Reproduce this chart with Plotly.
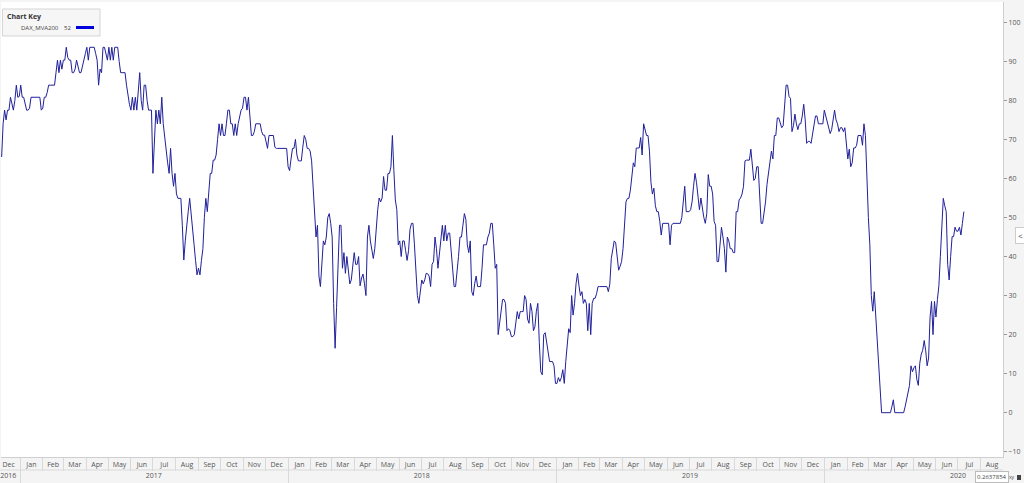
import pandas as pd
import plotly.graph_objects as go

# ---------------- data ----------------
series_name = "DAX_MVA200"
legend_value = "52"
start_date = "2016-12-07"
sample_step = "2D"
values = [
    65.5, 74, 77.5, 75, 77.5, 77.5, 80.8, 79, 77.5, 80,
    83.9, 80.8, 81, 83.9, 80.8, 80.8, 79, 77.5, 77.5, 78,
    80.8, 80.8, 80.8, 80.8, 80.8, 80.8, 80.8, 77.5, 78, 80.8,
    80.8, 82, 83.9, 83.9, 83.9, 83.9, 83.9, 87.1, 90.3, 87.1,
    90.3, 88, 90.3, 90.3, 93.6, 91, 90.3, 90.3, 87.1, 87.1,
    88, 90.3, 89, 87.1, 87.1, 88.5, 90.3, 92, 93.6, 90.3,
    93.6, 93.6, 93.6, 93.6, 92, 90.3, 83.9, 88, 87.1, 93.6,
    93.6, 92, 90.3, 93.6, 90.3, 93.6, 90.3, 93.6, 93.6, 93.6,
    90, 87.1, 87.1, 87.1, 87.1, 83.9, 80.8, 79, 77.5, 80.8,
    77.5, 80.8, 77.5, 83, 87.1, 80, 77.5, 83.9, 83.9, 80,
    77.5, 77.5, 77.5, 61.3, 72, 77.5, 74, 77.5, 74, 80.8,
    74, 70, 67.7, 64, 61.3, 67.7, 61.3, 58, 61.3, 56,
    54.9, 54.9, 54.9, 48, 39.1, 44, 48.5, 51.5, 54.9, 51.5,
    48, 43, 39, 35.3, 37, 35.3, 39, 42, 50, 54.9,
    51.5, 58, 61.3, 61.3, 64.7, 64.7, 66, 70, 74, 71,
    74, 71, 71, 74, 77.5, 77.5, 74, 74, 71, 74,
    71, 74, 76, 77.5, 78, 80.8, 80.8, 77.5, 80.8, 75,
    71, 71, 72, 74, 74, 74, 74, 72, 71.1, 71.1,
    69, 67.7, 71, 71, 71, 71, 68, 67.7, 67.7, 67.7,
    67.7, 67.7, 67.7, 67.7, 67.7, 63, 62, 65, 67.7, 67.7,
    70, 66, 64.5, 64.5, 64.5, 68, 71, 70, 67.7, 67.7,
    67, 64.5, 58, 53, 45, 48, 35, 32.3, 39, 44,
    43, 45, 50, 51, 48.5, 45, 28, 16.5, 27, 38,
    48, 48, 37, 41, 35.7, 40, 37, 33, 34, 37,
    41, 38, 38, 40, 32.5, 34.5, 35.5, 33, 30, 45,
    48, 44, 42, 39.5, 42, 47.5, 52, 55, 54, 55,
    60.5, 57, 57, 61.3, 61.3, 63, 71, 62, 54.5, 52,
    43, 44, 40, 44, 44, 41.5, 39, 41.5, 47, 48.5,
    48.5, 43, 37, 30, 28, 31, 34, 33, 34, 35.7,
    35.6, 35, 32.3, 38, 38.7, 45, 42, 37, 41, 44,
    48, 44, 48, 44, 46, 46, 42, 36, 32.3, 32.3,
    35.5, 40, 45, 45, 48, 51, 49.5, 43, 41, 44,
    31, 30, 33, 35, 32.3, 32.3, 32.3, 37, 43, 43,
    43, 45, 46, 48.5, 48.5, 43, 37, 38, 20, 23,
    27, 29, 29, 28, 21, 21.5, 21, 19.5, 19.5, 20,
    23, 25.9, 24, 25.9, 25.9, 25.9, 30, 29, 24, 22.9,
    28, 26, 21, 22, 26, 28, 18, 10.5, 9.7, 20,
    20.5, 18, 15, 13.1, 13.1, 13.1, 12, 7.5, 7.5, 9,
    8, 9, 11, 7.5, 13.1, 18.5, 21.5, 20.5, 30, 25,
    28, 33, 35.7, 32.5, 30, 31, 28, 29, 28, 21,
    28, 20, 28, 29.3, 29.3, 30.5, 32.3, 32.3, 32.3, 32.3,
    32.3, 32.3, 32.3, 31, 33, 39.5, 42, 44, 43.5, 40,
    36.5, 37.5, 38.7, 42, 49, 54, 54.9, 54.9, 57, 60,
    64, 63, 67.8, 67.8, 67.8, 70.5, 66, 74, 72, 71,
    71, 67, 59, 56, 57.5, 53, 51.5, 51.5, 49, 45.5,
    48.5, 48.5, 48.5, 48.5, 48.5, 43, 48, 48.5, 48.5, 48.5,
    48.5, 48.5, 48.5, 50, 55, 58, 51.5, 51.5, 51.5, 52,
    54, 58, 61.3, 59, 54.5, 52, 55, 52, 50, 48.5,
    51, 61, 58, 58, 56, 49, 48, 38.7, 38.7, 43,
    47.5, 45, 42, 36, 45, 44, 42, 42, 41, 41,
    51.5, 51.5, 54.5, 55, 56, 58, 64.5, 64.7, 64.7, 64.7,
    67.5, 63, 59.5, 60, 63, 63, 56, 48.5, 48.5, 51,
    54, 58.5, 61.3, 63.5, 67, 65, 71, 71, 75.5, 75.5,
    74, 73, 73.5, 80.5, 83.9, 83.9, 81, 80.5, 72, 73.5,
    76.5, 74, 72.5, 74, 74, 76, 79, 75, 69, 69.5,
    69.5, 69, 71.5, 73.5, 76, 76, 74, 74, 74, 74,
    77.5, 76, 74, 73, 71.5, 72.5, 74.5, 77.5, 75, 74,
    72, 73, 73, 72, 73, 67.8, 65, 67.5, 63, 64,
    67.8, 67.8, 68.5, 71, 71, 71, 68.5, 74, 71, 58,
    50, 43, 30, 26, 31, 25, 19, 11, 4, 0,
    0, 0, 0, 0, 0, 0, 1.5, 3.3, 0, 0,
    0, 0, 0, 0, 0, 1.5, 3.3, 5, 7, 12,
    10.5, 11.5, 12, 8.5, 7, 12.7, 15, 16, 18.5, 16,
    12, 14, 24.5, 28.5, 20, 28.5, 24.5, 29, 32.5, 40,
    47, 54.9, 53, 51.5, 38, 34, 40, 45.1, 45.1, 47.5,
    46.5, 46.5, 47.5, 45.5, 48.5, 51.5,
]
year_labels = ["2016", "2017", "2018", "2019", "2020"]
year_label_dates = ["2016-12-16", "2017-07-02", "2018-07-02", "2019-07-02", "2020-07-01"]
year_starts = ["2017-01-01", "2018-01-01", "2019-01-01", "2020-01-01"]
y_ticks = list(range(-10, 101, 10))

dates = pd.date_range(start_date, periods=len(values), freq=sample_step)

# ---------------- layout constants ----------------
W, H = 1024, 483
L, R, T, B = 1, 21, 2, 26
x_range = ["2016-12-06 03:00", "2020-08-31 07:00"]
y_range = [-11.35, 105.2]
FONT = "Open Sans, DejaVu Sans, sans-serif"
axis_font = dict(family=FONT, size=7, color="#555555")
sep_color = "#d9d9d9"


def fx(px):
    return (px - L) / (W - L - R)


def fy(py):
    return (H - B - py) / (H - T - B)


fig = go.Figure()
fig.add_trace(go.Scatter(
    x=dates, y=values, mode="lines", name=series_name,
    line=dict(color="#20209a", width=1), showlegend=False,
))
# invisible carriers so the overlaid calendar axes are drawn
for ax in ("x2", "x3"):
    fig.add_trace(go.Scatter(
        x=dates, y=values, xaxis=ax, yaxis="y", mode="lines",
        line=dict(width=0, color="rgba(0,0,0,0)"), opacity=0,
        hoverinfo="skip", showlegend=False,
    ))

fig.update_layout(
    width=W, height=H,
    margin=dict(l=L, r=R, t=T, b=B, pad=0),
    paper_bgcolor="#f4f4f4", plot_bgcolor="#ffffff",
    showlegend=False,
    font=dict(family=FONT),
    xaxis=dict(
        type="date", range=x_range, dtick="M1", tick0="2016-12-01",
        tickformat="%b", ticklabelmode="period",
        ticks="outside", ticklen=13, tickcolor=sep_color, tickwidth=1,
        tickfont=axis_font, ticklabelstandoff=-12,
        showgrid=False, zeroline=False, showline=True, linecolor="#cfcfcf",
    ),
    xaxis2=dict(
        type="date", overlaying="x", anchor="y", side="bottom", range=x_range,
        tickmode="array", tickvals=year_label_dates, ticktext=year_labels,
        ticks="", tickfont=axis_font, ticklabelstandoff=13,
        showgrid=False, zeroline=False, showline=False,
    ),
    xaxis3=dict(
        type="date", overlaying="x", anchor="y", side="bottom", range=x_range,
        tickmode="array", tickvals=year_starts, ticks="outside", ticklen=26,
        tickcolor=sep_color, showticklabels=False,
        showgrid=False, zeroline=False, showline=False,
    ),
    yaxis=dict(
        side="right", range=y_range, tickmode="array", tickvals=y_ticks,
        ticks="outside", ticklen=3, tickcolor="#999999", tickfont=axis_font,
        showgrid=False, zeroline=False, showline=True, linecolor="#cfcfcf",
    ),
)

shapes = [
    # separator between month row and year row
    dict(type="line", xref="paper", yref="paper", x0=fx(0), x1=fx(1003),
         y0=fy(470), y1=fy(470), line=dict(color=sep_color, width=1)),
    # legend box
    dict(type="rect", xref="paper", yref="paper", x0=fx(2.5), x1=fx(100),
         y0=fy(36), y1=fy(9), fillcolor="#f6f6f6",
         line=dict(color="#d5d5d5", width=1)),
    # legend swatch
    dict(type="line", xref="paper", yref="paper", x0=fx(76), x1=fx(94),
         y0=fy(27.5), y1=fy(27.5), line=dict(color="#0000dd", width=3)),
    # lock icon
    dict(type="rect", xref="paper", yref="paper", x0=fx(1017), x1=fx(1021),
         y0=fy(480), y1=fy(475), fillcolor="#444444", line=dict(width=0)),
]
fig.update_layout(shapes=shapes)

ann = [
    dict(text="<b>Chart Key</b>", x=fx(5), y=fy(16), font=dict(size=7, color="#333333")),
    dict(text=series_name, x=fx(19), y=fy(27.5), font=dict(size=6, color="#444444")),
    dict(text=legend_value, x=fx(62), y=fy(27.5), font=dict(size=6, color="#444444")),
    dict(text="0.2637854", x=fx(975), y=fy(476.5), font=dict(size=6, color="#444444"),
         bgcolor="#ffffff", bordercolor="#bbbbbb", borderwidth=1, borderpad=1),
    dict(text="xy", x=fx(1007), y=fy(477), font=dict(size=5, color="#444444")),
    dict(text="&lt;", x=fx(1015), y=fy(236), font=dict(size=8, color="#444444"),
         bgcolor="#ffffff", bordercolor="#cccccc", borderwidth=1, borderpad=2),
]
for a in ann:
    a.update(xref="paper", yref="paper", xanchor="left", yanchor="middle",
             showarrow=False)
fig.update_layout(annotations=ann)

fig.write_html(
    "out.html",
    config={"displayModeBar": False},
    post_script="document.body.style.margin='0';document.body.style.overflow='hidden';",
)
